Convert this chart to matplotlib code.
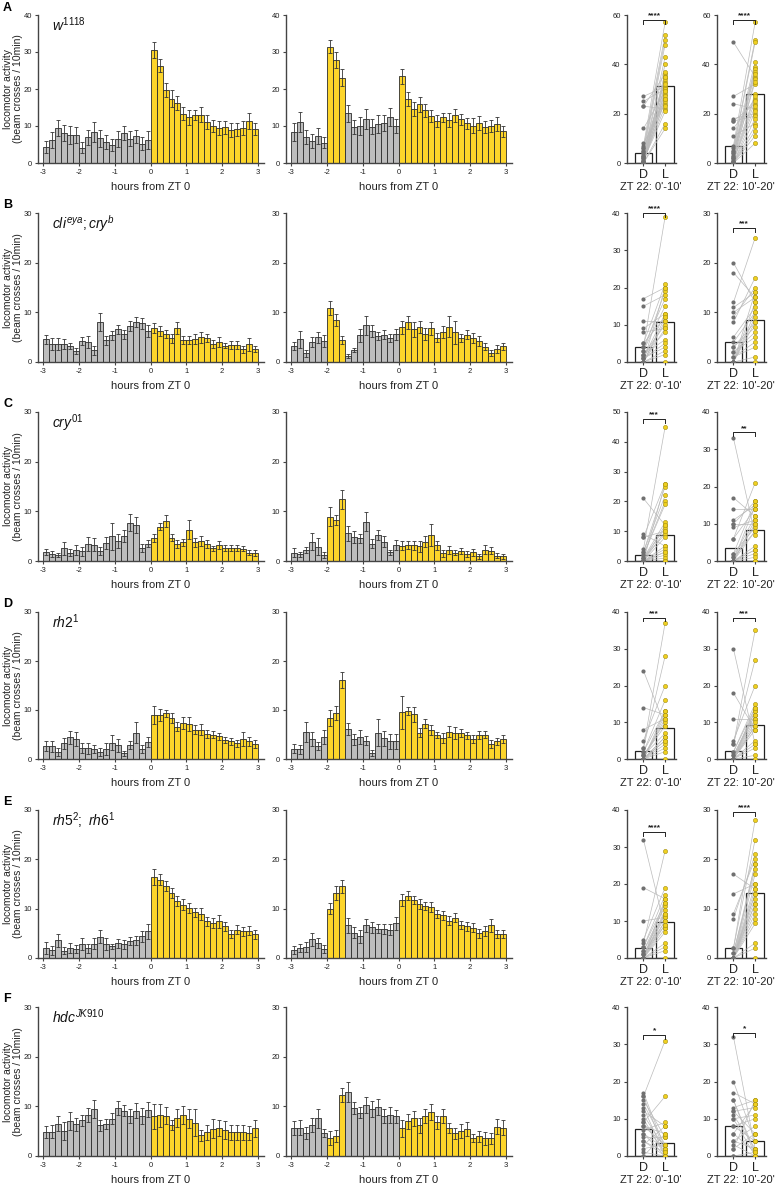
import numpy as np
import matplotlib.pyplot as plt

plt.rcParams['font.family'] = ['Liberation Sans', 'DejaVu Sans']
plt.rcParams['mathtext.fontset'] = 'custom'
plt.rcParams['mathtext.it'] = 'Liberation Sans:italic'
plt.rcParams['mathtext.rm'] = 'Liberation Sans'

# 10-min bins from -3 h to +3 h (left edges, in hours)
bin_minutes = np.arange(-180, 180, 10)
bin_hours = bin_minutes / 60.0

# ---- histogram data: bar means and top of error bar ----
A1_mean = [4.3, 6.3, 9.4, 8.1, 7.5, 7.5, 4.1, 6.9, 8.4, 6.7, 5.7, 4.9, 6.5, 8.1, 6.6, 7.2, 5.2, 6.3,
           30.6, 26.3, 19.8, 17.4, 16.3, 13.3, 12.3, 12.9, 13.1, 11.1, 9.9, 9.5, 9.6, 8.8, 9.1, 9.5, 11.3, 9.1]
A1_top = [6.0, 8.5, 11.5, 10.3, 9.9, 9.7, 5.6, 9.0, 11.0, 9.0, 7.6, 6.6, 8.6, 9.9, 8.7, 9.0, 6.9, 8.7,
          32.8, 28.1, 21.7, 19.7, 18.2, 15.1, 14.2, 14.2, 15.2, 12.9, 11.5, 11.3, 11.3, 10.7, 10.8, 11.4, 13.4, 10.7]
A2_mean = [8.4, 11.0, 7.0, 6.0, 7.3, 5.5, 31.4, 27.9, 23.1, 13.5, 9.7, 10.0, 11.9, 9.8, 10.5, 10.8, 12.5, 10.1,
           23.4, 17.3, 14.6, 15.9, 14.2, 12.7, 11.4, 12.3, 11.6, 12.9, 11.8, 10.7, 10.1, 10.7, 9.7, 9.9, 10.5, 8.6]
A2_top = [10.9, 13.7, 8.9, 7.9, 9.5, 6.9, 33.2, 30.1, 25.4, 15.8, 11.5, 12.3, 14.5, 11.8, 12.9, 13.0, 15.0, 12.0,
          25.5, 19.3, 16.5, 17.9, 16.0, 14.4, 13.0, 13.6, 13.5, 14.7, 13.3, 12.2, 12.1, 12.6, 11.4, 11.5, 12.3, 10.1]

B1_mean = [4.6, 3.6, 3.6, 3.6, 3.3, 2.2, 4.2, 4.0, 2.4, 8.0, 4.4, 5.4, 6.6, 5.6, 7.2, 8.1, 7.8, 6.3,
           6.8, 6.2, 5.7, 4.8, 6.8, 4.5, 4.5, 4.6, 5.0, 4.9, 3.7, 4.0, 3.3, 3.4, 3.5, 2.6, 3.6, 2.7]
B1_top = [5.5, 4.8, 4.8, 4.6, 3.9, 2.8, 5.0, 5.2, 3.3, 9.8, 5.3, 6.3, 7.5, 6.5, 8.2, 9.1, 8.9, 7.5,
          7.8, 7.2, 6.5, 5.7, 8.0, 5.3, 5.3, 5.6, 6.1, 5.7, 4.5, 5.0, 3.8, 4.2, 4.3, 3.3, 4.9, 3.3]
B2_mean = [3.2, 4.6, 1.8, 4.0, 5.0, 4.2, 10.8, 8.4, 4.5, 1.2, 2.4, 5.4, 7.4, 6.2, 5.3, 5.5, 4.9, 5.6,
           7.0, 8.0, 6.6, 7.0, 5.6, 6.8, 4.9, 6.0, 7.1, 6.0, 4.8, 5.5, 4.8, 4.3, 3.1, 1.9, 2.7, 3.2]
B2_top = [4.0, 6.3, 2.5, 5.0, 6.1, 5.4, 12.2, 9.6, 5.3, 1.6, 2.8, 6.7, 9.3, 7.4, 6.1, 6.4, 5.7, 6.7,
          8.3, 9.3, 8.1, 8.2, 6.8, 8.1, 5.8, 7.2, 9.2, 8.3, 5.6, 6.4, 5.8, 5.3, 3.8, 2.5, 3.5, 3.9]

C1_mean = [1.8, 1.5, 1.2, 2.6, 1.7, 2.2, 2.0, 3.5, 3.3, 2.1, 3.7, 5.0, 4.1, 5.1, 7.7, 7.3, 2.6, 3.5,
           4.6, 6.9, 8.0, 4.7, 3.5, 3.8, 6.3, 3.8, 4.0, 3.4, 2.6, 3.2, 2.6, 2.6, 2.7, 2.5, 1.7, 1.6]
C1_top = [2.4, 2.1, 1.6, 3.9, 2.4, 3.2, 2.9, 4.9, 4.6, 2.9, 4.9, 7.7, 5.5, 6.3, 9.4, 8.9, 3.4, 4.2,
          5.4, 7.6, 9.2, 5.4, 4.3, 4.5, 8.2, 4.7, 5.0, 4.2, 3.1, 4.0, 3.2, 3.2, 3.3, 3.0, 2.2, 2.2]
C2_mean = [1.7, 1.4, 2.2, 3.9, 2.9, 1.3, 8.9, 8.3, 12.4, 5.6, 4.9, 4.6, 7.9, 3.5, 5.3, 3.9, 1.8, 3.3,
           3.1, 3.3, 3.2, 3.0, 3.9, 5.2, 3.2, 1.6, 2.2, 1.7, 2.0, 1.5, 1.8, 1.0, 2.3, 2.1, 1.1, 1.0]
C2_top = [2.6, 1.9, 2.8, 5.6, 4.6, 1.9, 10.8, 9.3, 14.3, 7.1, 6.1, 5.5, 9.8, 4.4, 6.3, 5.0, 2.3, 4.3,
          4.0, 4.1, 4.1, 4.1, 5.0, 7.4, 4.1, 2.3, 3.0, 2.2, 2.6, 2.1, 2.5, 1.5, 3.2, 2.8, 1.6, 1.5]

D1_mean = [2.7, 2.6, 1.5, 3.2, 4.4, 4.1, 2.2, 2.2, 2.0, 1.5, 2.1, 3.3, 2.8, 1.2, 2.9, 5.4, 2.0, 3.5,
           9.0, 9.0, 9.3, 8.4, 6.6, 7.3, 7.1, 6.0, 6.0, 5.1, 5.0, 4.6, 3.8, 3.6, 3.2, 4.1, 3.6, 3.1]
D1_top = [3.7, 3.7, 2.3, 4.3, 5.8, 5.6, 3.2, 3.3, 2.8, 2.3, 3.3, 4.8, 4.1, 1.7, 3.7, 7.6, 2.8, 4.5,
          10.8, 10.2, 10.1, 9.4, 7.5, 8.5, 8.5, 6.9, 7.1, 6.0, 5.8, 5.3, 4.4, 4.3, 3.9, 5.5, 4.5, 3.9]
D2_mean = [2.1, 2.0, 5.5, 4.1, 2.6, 4.5, 8.4, 9.4, 16.1, 6.2, 4.0, 4.5, 3.7, 1.3, 5.4, 4.2, 3.6, 3.6,
           9.5, 9.8, 9.1, 5.4, 7.2, 5.9, 4.9, 4.3, 5.6, 5.3, 5.3, 4.8, 4.1, 4.9, 5.0, 3.1, 3.6, 4.0]
D2_top = [3.0, 2.9, 7.6, 5.5, 3.4, 6.0, 10.0, 10.9, 17.7, 7.4, 5.2, 6.0, 4.6, 1.9, 8.2, 5.7, 5.2, 5.2,
          12.8, 10.7, 10.6, 6.4, 8.1, 6.9, 5.5, 5.4, 6.8, 6.6, 6.2, 5.5, 4.9, 5.8, 5.7, 3.9, 4.3, 4.8]

E1_mean = [2.1, 1.6, 3.6, 1.5, 2.1, 1.9, 2.8, 2.0, 2.9, 4.3, 2.9, 2.4, 3.0, 2.8, 3.5, 3.6, 4.4, 5.4,
           16.4, 15.9, 14.6, 13.2, 11.6, 10.8, 10.2, 9.3, 8.9, 7.4, 7.1, 7.4, 6.4, 4.9, 5.7, 5.4, 5.5, 4.8]
E1_top = [3.3, 2.5, 4.9, 2.2, 3.1, 2.7, 4.0, 2.9, 4.0, 5.6, 4.1, 2.9, 3.9, 3.7, 4.3, 4.5, 5.5, 6.9,
          18.0, 17.0, 15.6, 14.2, 12.6, 11.9, 11.2, 10.2, 10.1, 8.3, 8.2, 8.7, 7.3, 5.7, 6.6, 6.3, 6.4, 5.7]
E2_mean = [1.7, 2.0, 2.3, 3.8, 3.0, 1.8, 10.0, 13.1, 14.5, 6.6, 5.1, 4.4, 6.6, 6.2, 5.9, 5.8, 5.7, 7.0,
           11.8, 12.6, 11.7, 11.0, 10.5, 10.4, 9.0, 8.7, 7.6, 8.2, 6.7, 6.4, 6.1, 5.0, 5.5, 6.6, 4.8, 4.9]
E2_top = [2.5, 2.8, 3.3, 5.1, 4.0, 2.6, 11.1, 14.5, 15.9, 8.1, 6.2, 5.7, 7.9, 7.3, 6.8, 6.8, 6.8, 8.4,
          13.0, 13.5, 12.5, 12.0, 11.3, 11.4, 9.8, 9.6, 8.6, 9.2, 7.6, 7.3, 7.0, 5.9, 6.5, 7.9, 5.6, 5.7]

F1_mean = [4.8, 4.9, 6.5, 5.0, 7.0, 6.4, 7.2, 8.2, 9.4, 6.2, 6.5, 7.5, 9.7, 9.1, 8.1, 9.1, 8.0, 9.3,
           8.0, 8.2, 8.1, 6.3, 7.7, 8.2, 7.5, 6.7, 4.2, 4.8, 5.5, 5.7, 5.2, 4.8, 4.8, 4.8, 4.6, 5.6]
F1_top = [6.0, 6.2, 8.0, 6.8, 8.8, 7.7, 8.3, 9.6, 11.2, 7.3, 7.5, 8.6, 11.1, 10.2, 9.5, 10.6, 9.6, 10.8,
          10.5, 10.5, 9.8, 7.3, 9.5, 10.0, 9.4, 9.4, 5.3, 6.3, 7.4, 7.3, 7.0, 6.3, 6.3, 6.3, 6.0, 7.3]
F2_mean = [5.6, 5.7, 4.6, 6.2, 7.6, 4.6, 3.6, 4.0, 12.2, 12.9, 9.6, 8.7, 10.2, 9.4, 9.8, 8.1, 8.3, 8.0,
           5.6, 7.0, 7.6, 6.2, 8.0, 8.9, 6.8, 8.1, 5.6, 4.6, 5.0, 5.5, 3.6, 4.0, 3.6, 3.6, 5.9, 5.7]
F2_top = [7.0, 7.2, 5.8, 7.6, 9.5, 5.4, 5.0, 5.2, 13.6, 15.0, 10.8, 9.8, 11.8, 11.0, 11.4, 9.5, 9.9, 9.3,
          7.3, 8.5, 9.1, 7.7, 9.4, 10.5, 8.1, 9.5, 6.6, 5.7, 6.4, 6.9, 4.4, 5.1, 4.9, 4.7, 7.4, 7.2]

# ---- paired dot plots: per-fly counts in dark (D) and light (L), and bar means ----
A3_D = [27, 25, 23, 23, 14, 8, 7, 6, 6, 5, 5, 4, 4, 3, 3, 3, 2, 2, 2, 1, 1, 1, 1, 0, 0, 0, 0, 0, 0, 0]
A3_L = [31, 30, 22, 36, 29, 24, 57, 52, 26, 50, 33, 48, 28, 43, 35, 40, 31, 27, 34, 25, 32, 21, 23, 30, 16, 14, 37, 26, 29, 35]
A4_D = [49, 27, 24, 18, 17, 17, 14, 11, 7, 6, 5, 5, 4, 4, 3, 3, 2, 2, 2, 1, 1, 1, 0, 0, 0, 0, 0, 0]
A4_L = [35, 32, 22, 20, 24, 19, 26, 16, 57, 50, 49, 41, 39, 38, 37, 36, 34, 33, 28, 27, 25, 23, 18, 15, 13, 11, 8, 21]
B3_D = [17, 15, 11, 9, 8, 5, 5, 4, 4, 3, 3, 2, 2, 2, 1, 1, 1, 0, 0, 0, 0, 0, 0, 0]
B3_L = [20, 18, 11, 13, 9, 21, 12, 39, 17, 19, 15, 10, 8, 6, 5, 4, 13, 20, 12, 11, 3, 2, 0, 9]
B4_D = [20, 18, 12, 11, 10, 9, 8, 5, 4, 3, 3, 2, 2, 1, 1, 0, 0, 0, 0, 0, 0, 0]
B4_L = [12, 13, 25, 14, 13, 15, 17, 11, 10, 8, 7, 6, 5, 4, 3, 1, 0, 14, 12, 9, 8, 10]
C3_D = [21, 9, 8, 8, 4, 3, 3, 2, 2, 1, 1, 1, 0, 0, 0, 0, 0, 0, 0, 0, 0, 0, 0, 0]
C3_L = [12, 5, 26, 10, 45, 25, 22, 20, 19, 13, 11, 9, 8, 5, 4, 3, 2, 1, 0, 0, 12, 10, 3, 26]
C4_D = [33, 17, 14, 11, 10, 10, 9, 6, 6, 2, 2, 1, 1, 0, 0, 0, 0, 0, 0, 0, 0, 0, 0, 0]
C4_L = [7, 12, 14, 15, 10, 16, 11, 14, 21, 16, 9, 12, 8, 4, 3, 2, 1, 0, 0, 15, 10, 11, 3, 8]
D3_D = [24, 14, 8, 5, 3, 3, 2, 2, 1, 1, 1, 0, 0, 0, 0, 0, 0, 0, 0, 0, 0, 0]
D3_L = [9, 12, 11, 20, 37, 28, 16, 13, 10, 9, 7, 6, 5, 4, 3, 2, 0, 11, 13, 12, 6, 5]
D4_D = [30, 18, 11, 5, 4, 4, 2, 2, 1, 1, 0, 0, 0, 0, 0, 0, 0, 0, 0, 0, 0, 0, 0]
D4_L = [4, 8, 11, 20, 35, 27, 15, 14, 13, 12, 11, 10, 9, 8, 5, 4, 3, 1, 0, 13, 14, 12, 9]
E3_D = [32, 19, 10, 5, 4, 3, 3, 2, 2, 1, 1, 1, 0, 0, 0, 0, 0, 0, 0, 0, 0, 0, 0, 0]
E3_L = [8, 16, 11, 19, 29, 17, 15, 14, 12, 11, 10, 9, 8, 7, 4, 3, 2, 0, 16, 15, 12, 10, 9, 13]
E4_D = [17, 13, 9, 8, 2, 2, 1, 1, 0, 0, 0, 0, 0, 0, 0, 0, 0, 0, 0, 0, 0, 0, 0, 0]
E4_L = [14, 15, 20, 21, 28, 24, 19, 18, 17, 15, 14, 13, 12, 11, 10, 9, 8, 7, 3, 2, 0, 19, 13, 11]
F3_D = [17, 16, 16, 15, 14, 13, 12, 11, 10, 9, 9, 8, 8, 7, 6, 6, 5, 4, 4, 3, 2, 1, 0, 0]
F3_L = [2, 31, 1, 5, 3, 0, 8, 2, 0, 16, 1, 6, 3, 9, 0, 2, 5, 1, 0, 8, 3, 0, 6, 0]
F4_D = [32, 20, 17, 15, 15, 13, 12, 12, 11, 10, 10, 8, 8, 6, 6, 4, 4, 3, 2, 2, 0, 0]
F4_L = [2, 4, 14, 1, 0, 15, 6, 13, 2, 0, 11, 4, 10, 1, 14, 8, 2, 0, 6, 15, 1, 0]

bar_means = {
    'A': [(4.0, 31.3), (7.0, 28.0)],
    'B': [(4.1, 10.7), (4.0, 8.4)],
    'C': [(1.9, 8.8), (3.5, 8.2)],
    'D': [(2.2, 8.4), (2.2, 9.3)],
    'E': [(2.8, 9.8), (2.0, 13.2)],
    'F': [(7.2, 3.5), (8.1, 4.0)],
}
stars = {'A': ('****', '****'), 'B': ('****', '***'), 'C': ('***', '**'),
         'D': ('***', '***'), 'E': ('****', '****'), 'F': ('*', '*')}
bracket_y = {'A': (58, 58), 'B': (40, 27), 'C': (47.5, 34.5), 'D': (38.5, 38.5),
             'E': (34, 29.6), 'F': (32.5, 33)}
dot_ymax = {'A': (60, 60), 'B': (40, 30), 'C': (50, 40), 'D': (40, 40), 'E': (40, 30), 'F': (40, 40)}
dot_ystep = {'A': 20}
hist_ymax = {'A': 40, 'B': 30, 'C': 30, 'D': 30, 'E': 30, 'F': 30}
genotypes = {
    'A': r'$\mathit{w}^{\mathit{1118}}$',
    'B': r'$\mathit{cli}^{\mathit{eya}}\mathit{;cry}^{\mathit{b}}$',
    'C': r'$\mathit{cry}^{\mathit{01}}$',
    'D': r'$\mathit{rh2}^{\mathit{1}}$',
    'E': r'$\mathit{rh5}^{\mathit{2}}\mathit{;\ rh6}^{\mathit{1}}$',
    'F': r'$\mathit{hdc}^{\mathit{JK910}}$',
}
hist_data = {
    'A': (A1_mean, A1_top, A2_mean, A2_top), 'B': (B1_mean, B1_top, B2_mean, B2_top),
    'C': (C1_mean, C1_top, C2_mean, C2_top), 'D': (D1_mean, D1_top, D2_mean, D2_top),
    'E': (E1_mean, E1_top, E2_mean, E2_top), 'F': (F1_mean, F1_top, F2_mean, F2_top),
}
dot_data = {
    'A': ((A3_D, A3_L), (A4_D, A4_L)), 'B': ((B3_D, B3_L), (B4_D, B4_L)),
    'C': ((C3_D, C3_L), (C4_D, C4_L)), 'D': ((D3_D, D3_L), (D4_D, D4_L)),
    'E': ((E3_D, E3_L), (E4_D, E4_L)), 'F': ((F3_D, F3_L), (F4_D, F4_L)),
}
zt_labels = ["ZT 22: 0'-10'", "ZT 22: 10'-20'"]

GRAY = '#bdbdbd'
YELLOW = '#fdd52a'
EDGE = '#2b2b2b'
AX = '#444444'

W, H = 775, 1186
fig = plt.figure(figsize=(W / 100, H / 100), dpi=100)

row_tops = [15, 213, 412, 612, 810, 1007]
row_bots = [163, 362, 561, 759, 958, 1156]
hist_left = [38, 286]
hist_w = 226
dot_left = [627, 717]
dot_w = 48.5


def style(ax):
    for s in ['top', 'right']:
        ax.spines[s].set_visible(False)
    for s in ['left', 'bottom']:
        ax.spines[s].set_color(AX)
        ax.spines[s].set_linewidth(1.0)
    ax.tick_params(colors=AX, labelcolor='#222222', labelsize=5.5, width=0.8, length=2.5, pad=2)


for r, key in enumerate(['A', 'B', 'C', 'D', 'E', 'F']):
    top, bot = row_tops[r], row_bots[r]
    yb = 1 - bot / H
    hh = (bot - top) / H
    m1, t1, m2, t2 = hist_data[key]
    for p in range(2):
        ax = fig.add_axes([hist_left[p] / W, yb, hist_w / W, hh])
        style(ax)
        mean = np.array([m1, m2][p])
        sem = np.array([t1, t2][p]) - mean
        light = bin_hours >= 0
        if p == 1:
            light = light | ((bin_hours >= -2) & (bin_hours < -1.6))
        colors = [YELLOW if l else GRAY for l in light]
        ax.bar(bin_hours, mean, width=1 / 6, align='edge', color=colors,
               edgecolor=EDGE, linewidth=0.6, zorder=2)
        ax.errorbar(bin_hours + 1 / 12, mean, yerr=sem, fmt='none', ecolor='#333333',
                    elinewidth=0.6, capsize=1.3, capthick=0.6, zorder=3)
        ax.set_xlim(-3.15, 3.17)
        ax.set_ylim(0, hist_ymax[key])
        ax.set_yticks(np.arange(0, hist_ymax[key] + 1, 10))
        ax.set_xticks([-3, -2, -1, 0, 1, 2, 3])
        ax.set_xticklabels(['-3', '-2', '-1', '0', '1', '2', '3'])
        ax.set_xlabel('hours from ZT 0', fontsize=8, labelpad=4, color='#222222')
        if p == 0:
            ax.set_ylabel('locomotor activity\n(beam crosses / 10min)', fontsize=7.5,
                          color='#222222', linespacing=1.0)
            ax.yaxis.set_label_coords(-0.068, 0.5)
            ax.text(0.06, 1.0, genotypes[key], transform=ax.transAxes, fontsize=10,
                    va='top', ha='left', color='#111111')

    fig.text(3 / W, 1 - max(top - 8, 8) / H, key, fontsize=9, fontweight='bold',
             va='center', ha='left')

    for p in range(2):
        ax = fig.add_axes([dot_left[p] / W, yb, dot_w / W, hh])
        style(ax)
        dvals, lvals = dot_data[key][p]
        bm = bar_means[key][p]
        ax.bar([0, 1], bm, width=0.8, color='white', edgecolor='#222222', linewidth=0.9, zorder=1)
        for dv, lv in zip(dvals, lvals):
            ax.plot([0, 1], [dv, lv], color='#bbbbbb', lw=0.5, zorder=2)
        ax.plot(np.zeros(len(dvals)), dvals, 'o', ms=3.0, color='#707070',
                markeredgewidth=0, zorder=3)
        ax.plot(np.ones(len(lvals)), lvals, 'o', ms=3.0, markerfacecolor='#f0d020',
                markeredgecolor='#a08c10', markeredgewidth=0.4, zorder=3)
        ymax = dot_ymax[key][p]
        ax.set_ylim(0, ymax)
        ax.set_xlim(-0.76, 1.48)
        step = dot_ystep.get(key, 10)
        ax.set_yticks(np.arange(0, ymax + 1, step))
        ax.set_xticks([0, 1])
        ax.set_xticklabels(['D', 'L'], fontsize=9)
        ax.tick_params(axis='x', pad=1.5)
        ax.set_xlabel(zt_labels[p], fontsize=8, labelpad=1, color='#222222')
        by = bracket_y[key][p]
        tick = ymax * 0.025
        ax.plot([0, 0, 1, 1], [by - tick, by, by, by - tick], color='#222222', lw=0.7,
                clip_on=False, zorder=4)
        ax.text(0.5, by + ymax * 0.005, stars[key][p], ha='center', va='bottom',
                fontsize=6, fontweight='bold', color='#222222')

fig.savefig('out.png', dpi=100)
